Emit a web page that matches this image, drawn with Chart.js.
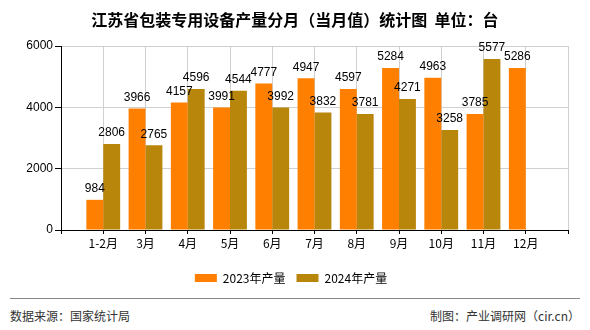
<!DOCTYPE html>
<html>
<head>
<meta charset="utf-8">
<script src="https://cdn.jsdelivr.net/npm/chart.js@4/dist/chart.umd.min.js"></script>
<style>
  body { margin: 0; background: #fff; font-family: "Noto Sans CJK SC", "Noto Sans", sans-serif; }
  #wrap { position: relative; width: 590px; height: 330px; overflow: hidden; }
  #title { position: absolute; left: 0; top: 7px; width: 590px; text-align: center; font-size: 16px; font-weight: bold; color: #000; white-space: pre; }
  #box { position: absolute; left: 0; top: 0; width: 590px; height: 294px; }
  #rule { position: absolute; left: 10px; top: 298px; width: 570px; border-top: 1px solid #888; }
  .foot { position: absolute; top: 307px; font-size: 12px; color: #333; }
</style>
</head>
<body>
<div id="wrap">
  <div id="box"><canvas id="chart"></canvas></div>
  <div id="title">江苏省包装专用设备产量分月（当月值）统计图  单位：台</div>
  <div id="rule"></div>
  <div class="foot" style="left:10px">数据来源：国家统计局</div>
  <div class="foot" style="right:10px">制图：产业调研网（cir.cn）</div>
</div>
<script>
const months = ['1-2月', '3月', '4月', '5月', '6月', '7月', '8月', '9月', '10月', '11月', '12月'];
const prod2023 = [984, 3966, 4157, 3991, 4777, 4947, 4597, 5284, 4963, 3785, 5286];
const prod2024 = [2806, 2765, 4596, 4544, 3992, 3832, 3781, 4271, 3258, 5577, null];
const yTicks = [0, 2000, 4000, 6000];

// empty slot before the first month and after the last one
const pad = arr => [null, ...arr, null];

const valueLabels = {
  id: 'valueLabels',
  afterDatasetsDraw(chart) {
    const ctx = chart.ctx;
    ctx.save();
    ctx.font = '12px "Liberation Sans", sans-serif';
    ctx.fillStyle = '#000';
    ctx.textAlign = 'center';
    ctx.textBaseline = 'bottom';
    chart.data.datasets.forEach((ds, i) => {
      chart.getDatasetMeta(i).data.forEach((bar, j) => {
        const v = ds.data[j];
        if (v == null) return;
        ctx.fillText(v, bar.x, bar.y - 5);
      });
    });
    ctx.restore();
  }
};

new Chart(document.getElementById('chart'), {
  type: 'bar',
  data: {
    labels: ['', ...months, ''],
    datasets: [
      { label: '2023年产量', data: pad(prod2023), backgroundColor: '#ff8000' },
      { label: '2024年产量', data: pad(prod2024), backgroundColor: '#b8860b' }
    ]
  },
  options: {
    responsive: true,
    maintainAspectRatio: false,
    animation: false,
    layout: { padding: { left: 14, right: 22, top: 46, bottom: 0 } },
    datasets: { bar: { categoryPercentage: 0.8, barPercentage: 1.0 } },
    plugins: {
      legend: {
        position: 'bottom',
        labels: {
          boxWidth: 22, boxHeight: 8, color: '#000', padding: 11,
          font: { size: 12, family: '"Noto Sans CJK SC", sans-serif' }
        }
      },
      tooltip: { enabled: false }
    },
    scales: {
      x: {
        offset: false,
        grid: { color: '#d0d0d0', tickColor: '#000', tickLength: 4, offset: false },
        border: { color: '#000' },
        ticks: {
          color: '#000', maxRotation: 0, autoSkip: false, padding: 2,
          font: { size: 12, family: '"Noto Sans CJK SC", sans-serif' }
        },
        afterFit: s => { s.height = 31; }
      },
      y: {
        min: 0, max: 6000,
        afterBuildTicks: s => { s.ticks = yTicks.map(v => ({ value: v })); },
        grid: { color: '#d0d0d0', tickColor: '#000', tickLength: 6 },
        border: { color: '#000' },
        ticks: {
          color: '#000', padding: 2,
          callback: v => String(v),
          font: { size: 12, family: '"Liberation Sans", sans-serif' }
        },
        afterFit: s => { s.width = 47; }
      }
    }
  },
  plugins: [valueLabels]
});
</script>
</body>
</html>
